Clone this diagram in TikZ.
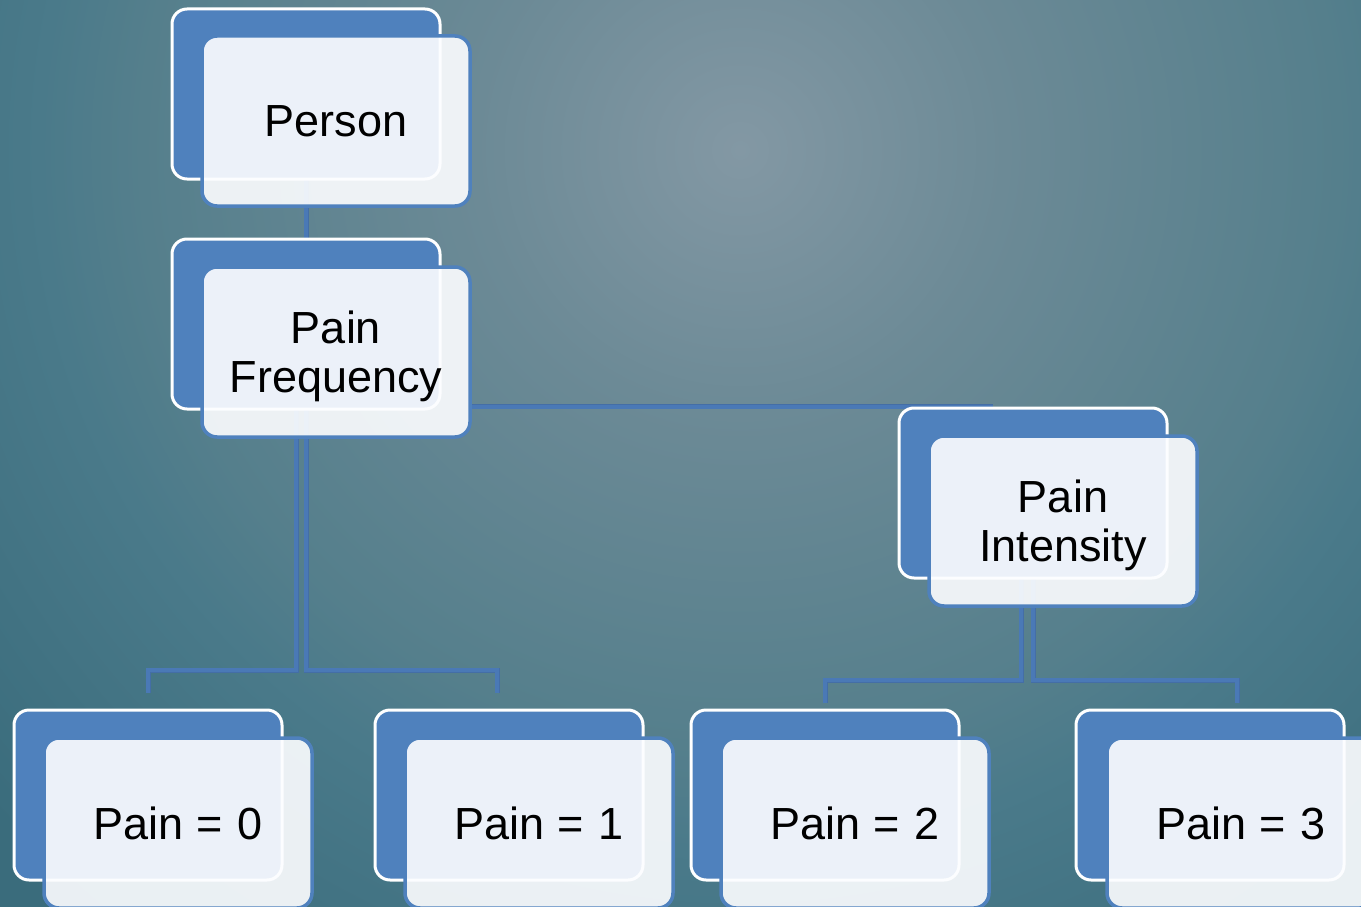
\documentclass[tikz,border=0pt]{standalone}
\usepackage{fontspec}
\setmainfont{Liberation Sans}
\definecolor{bg0}{RGB}{131,152,164}
\definecolor{bg1}{RGB}{108,138,150}
\definecolor{bg2}{RGB}{85,127,140}
\definecolor{bg3}{RGB}{74,122,138}
\definecolor{bg4}{RGB}{58,108,124}
\definecolor{boxblue}{RGB}{79,129,189}
\definecolor{lineblue}{RGB}{74,121,182}
\definecolor{linedark}{RGB}{68,110,166}
\definecolor{frontfill}{RGB}{252,253,255}
\pgfdeclareradialshading{bgshade}{\pgfpoint{0bp}{0bp}}{color(0bp)=(bg0); color(6bp)=(bg1); color(13.6bp)=(bg2); color(15.9bp)=(bg3); color(22.7bp)=(bg4); color(25bp)=(bg4); color(50bp)=(bg4)}
\pgfdeclarelayer{bglayer}
\pgfdeclarelayer{connlayer}
\pgfsetlayers{bglayer,connlayer,main}
\newcommand{\paineq}[1]{Pain\hspace{13pt}=\hspace{15pt}#1}
\newcommand{\twolines}[2]{\raisebox{-6pt}[\height][\depth]{\begin{tabular}{@{}c@{}}#1\\[1pt]#2\end{tabular}}}
\begin{document}
\begin{tikzpicture}[x=1pt,y=-1pt,
  backbox/.style={draw=white, line width=3pt, fill=boxblue, rounded corners=15pt,
    minimum width=268pt, minimum height=170pt, inner sep=0pt},
  frontbox/.style={draw=boxblue, line width=3.5pt, fill=frontfill, fill opacity=0.91,
    text opacity=1, rounded corners=15pt, minimum width=268pt, minimum height=170pt,
    inner sep=0pt, align=center, font=\fontsize{45}{48}\selectfont},
  conn/.style={draw=linedark, double=lineblue, line width=0.5pt, double distance=4pt,
    line join=miter}]
\useasboundingbox (0,0) rectangle (1361,907);
\clip (0,0) rectangle (1361,907);
\begin{pgfonlayer}{bglayer}
  \shade[shading=bgshade] (740,150) circle [radius=1100pt];
\end{pgfonlayer}

% nodes
\node[backbox] (personB) at (306,94) {};
\node[frontbox] (personF) at (336,121) {Person};
\node[backbox] (freqB) at (306,324) {};
\node[frontbox] (freqF) at (336,352) {\twolines{Pain}{Frequency}};
\node[backbox] (intB) at (1033,493) {};
\node[frontbox] (intF) at (1063,521) {\twolines{Pain}{Intensity}};
\node[backbox] (p0B) at (148,795) {};
\node[frontbox] (p0F) at (178,823) {\paineq{0}};
\node[backbox] (p1B) at (509,795) {};
\node[frontbox] (p1F) at (539,823) {\paineq{1}};
\node[backbox] (p2B) at (825,795) {};
\node[frontbox] (p2F) at (855,823) {\paineq{2}};
\node[backbox] (p3B) at (1210,795) {};
\node[frontbox] (p3F) at (1241,823) {\paineq{3}};

% connector turn points and free ends
\coordinate (k0) at (148,670); \coordinate (e0) at (148,693);
\coordinate (k1) at (497,670); \coordinate (e1) at (497,693);
\coordinate (k2) at (825,680); \coordinate (e2) at (825,703);
\coordinate (k3) at (1237,680); \coordinate (e3) at (1237,703);

\begin{pgfonlayer}{connlayer}
  \draw[conn] (personB.center) -- (freqB.center);
  \draw[conn] (freqF.east |- intB.north) -- ([xshift=-40pt]intB.north);
  \draw[conn] ([xshift=-10pt]freqB.center) |- (k0) -- (e0);
  \draw[conn] (freqB.center) |- (k1) -- (e1);
  \draw[conn] ([xshift=-12pt]intB.center) |- (k2) -- (e2);
  \draw[conn] (intB.center) |- (k3) -- (e3);
\end{pgfonlayer}
\end{tikzpicture}
\end{document}
